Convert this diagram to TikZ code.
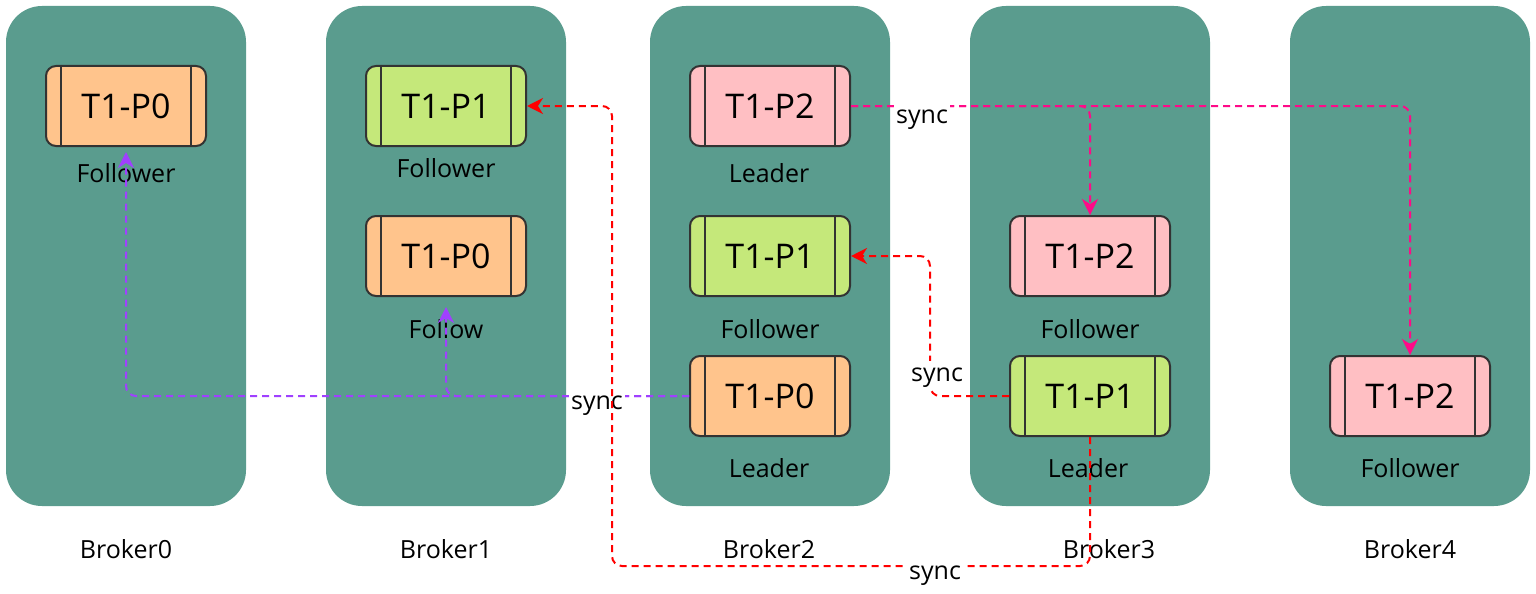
\documentclass[tikz,border=0pt]{standalone}
\usepackage{fontspec}
\setmainfont{Open Sans}
\usetikzlibrary{arrows.meta}
\definecolor{broker}{HTML}{5A9C8E}
\definecolor{porange}{HTML}{FFC48C}
\definecolor{pgreen}{HTML}{C5E87A}
\definecolor{ppink}{HTML}{FFBFC3}
\definecolor{edgec}{HTML}{333333}
\definecolor{cpurple}{HTML}{A040FF}
\definecolor{cpink}{HTML}{FF0A88}
\definecolor{cred}{HTML}{FF0000}
\tikzset{
  brokerbox/.style={fill=broker, rounded corners=36pt, minimum width=240pt, minimum height=500pt, inner sep=0pt},
  partbox/.style={draw=edgec, line width=2pt, rounded corners=10pt, minimum width=160pt, minimum height=80pt, inner sep=0pt, font=\fontsize{34}{40}\selectfont},
  sideline/.style={draw=edgec, line width=2pt},
  role/.style={font=\fontsize{25}{30}\selectfont, inner sep=0pt},
  blabel/.style={font=\fontsize{25}{30}\selectfont, inner sep=0pt},
  conn/.style={line width=2pt, dash pattern=on 7pt off 5pt, rounded corners=10pt, -{Stealth[length=16pt,width=16pt,inset=5pt]}},
  synclbl/.style={fill=white, inner sep=2pt, text height=18pt, text depth=6pt, font=\fontsize{25}{30}\selectfont},
}
\newcommand\mkpart[5]{%
  \node[partbox, fill=#4] (#1) at (#2,#3) {#5};
  \draw[sideline] ([xshift=16pt]#1.north west) -- ([xshift=16pt]#1.south west);
  \draw[sideline] ([xshift=-16pt]#1.north east) -- ([xshift=-16pt]#1.south east);
}
\begin{document}
\begin{tikzpicture}[x=1pt,y=-1pt]
\useasboundingbox (0,0) rectangle (1536,594);
% brokers
\node[brokerbox] (b0) at (126,256) {};
\node[brokerbox] (b1) at (446,256) {};
\node[brokerbox] (b2) at (770,256) {};
\node[brokerbox] (b3) at (1090,256) {};
\node[brokerbox] (b4) at (1410,256) {};
\node[blabel] (lb0) at (126,549) {Broker0};
\node[blabel] (lb1) at (446,549) {Broker1};
\node[blabel] (lb2) at (769,549) {Broker2};
\node[blabel] (lb3) at (1109,549) {Broker3};
\node[blabel] (lb4) at (1410,549) {Broker4};
% partitions
\mkpart{p00}{126}{106}{porange}{T1-P0}
\mkpart{p11}{446}{106}{pgreen}{T1-P1}
\mkpart{p10}{446}{256}{porange}{T1-P0}
\mkpart{p22}{770}{106}{ppink}{T1-P2}
\mkpart{p21}{770}{256}{pgreen}{T1-P1}
\mkpart{p20}{770}{396}{porange}{T1-P0}
\mkpart{p32}{1090}{256}{ppink}{T1-P2}
\mkpart{p31}{1090}{396}{pgreen}{T1-P1}
\mkpart{p42}{1410}{396}{ppink}{T1-P2}
% roles
\node[role] (r00) at (126,173) {Follower};
\node[role] (r11) at (446,168) {Follower};
\node[role] (r10) at (446,329) {Follow};
\node[role] (r22) at (769,173) {Leader};
\node[role] (r21) at (770,329) {Follower};
\node[role] (r20) at (769,468) {Leader};
\node[role] (r32) at (1090,329) {Follower};
\node[role] (r31) at (1088,468) {Leader};
\node[role] (r42) at (1410,468) {Follower};
% purple sync
\draw[conn, cpurple, shorten >=5pt] (p20.west) -| (p00.south);
\draw[conn, cpurple, shorten >=10pt] (p20.west) -| (p10.south);
\node[synclbl] (s1) at (597,403) {sync};
% red sync
\coordinate (rc1) at (612,566);
\draw[conn, cred] (p31.south) |- (rc1) |- (p11.east);
\node[synclbl] (s2) at (935,573) {sync};
\coordinate (rc2) at (930,256);
\draw[conn, cred] (p31.west) -| (rc2) -- (p21.east);
\node[synclbl] (s3) at (937,375) {sync};
% pink sync
\draw[conn, cpink] (p22.east) -| (p32.north);
\draw[conn, cpink] (p22.east) -| (p42.north);
\node[synclbl] (s4) at (922,117) {sync};
\end{tikzpicture}
\end{document}
